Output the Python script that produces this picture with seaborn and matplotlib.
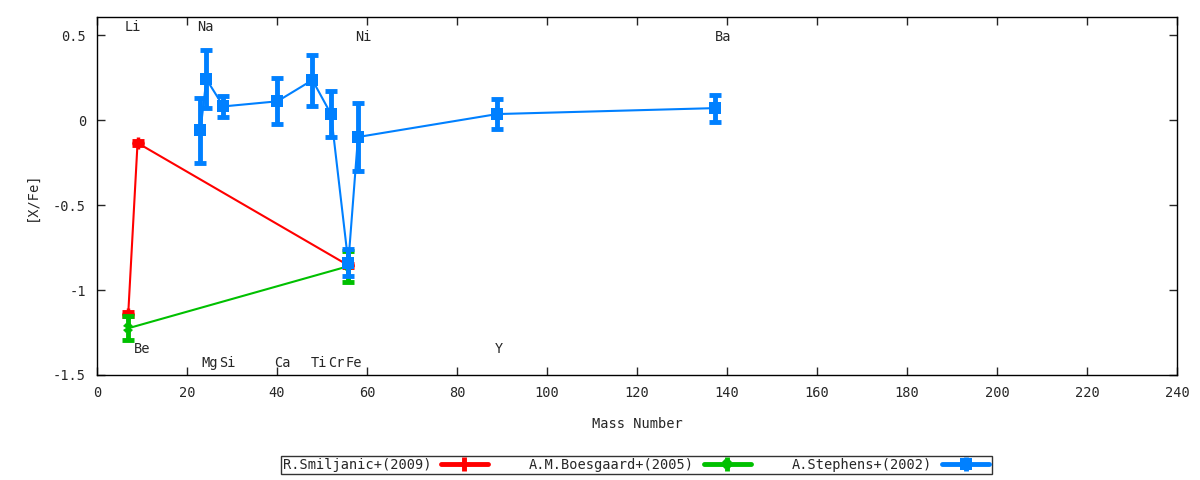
import matplotlib
matplotlib.use("Agg")
import matplotlib.pyplot as plt
import seaborn as sns
import pandas as pd

# R.Smiljanic+(2009)
smil_mass = [6.94, 9.01, 55.85]
smil_xfe = [-1.14, -0.135, -0.855]
smil_err = [0.01, 0.01, 0.01]

# A.M.Boesgaard+(2005)
boes_mass = [6.94, 55.85]
boes_xfe = [-1.225, -0.86]
boes_err = [0.07, 0.09]

# A.Stephens+(2002)
step_mass = [22.99, 24.31, 28.09, 40.08, 47.87, 52.0, 55.85, 58.0, 88.91, 137.33]
step_xfe = [-0.06, 0.24, 0.08, 0.11, 0.235, 0.035, -0.84, -0.10, 0.035, 0.07]
step_err = [0.19, 0.17, 0.06, 0.135, 0.15, 0.135, 0.08, 0.20, 0.09, 0.08]

# element labels: name, x, y
elem_names = ["Li", "Na", "Ni", "Ba", "Be", "Y", "Mg", "Si", "Ca", "Ti", "Cr", "Fe"]
elem_x = [8.0, 24.0, 59.1, 139.1, 10.0, 89.3, 25.1, 28.9, 41.1, 49.3, 53.3, 57.1]
elem_y = [0.547, 0.547, 0.488, 0.488, -1.347, -1.347, -1.43, -1.43, -1.43, -1.43, -1.43, -1.43]

sns.set_style("white")
plt.rcParams["font.family"] = ["DejaVu Sans Mono"]
FS = 9.8

fig = plt.figure(figsize=(12, 4.8), dpi=100)
ax = fig.add_axes([97 / 1200, 105 / 480, 1080 / 1200, 358 / 480])

series = [
    ("R.Smiljanic+(2009)", smil_mass, smil_xfe, smil_err, "#ff0000", "+", 8),
    ("A.M.Boesgaard+(2005)", boes_mass, boes_xfe, boes_err, "#00c000", "X", 7),
    ("A.Stephens+(2002)", step_mass, step_xfe, step_err, "#0080ff", "s", 8),
]

handles = []
labels = []
for name, xs, ys, es, col, mk, ms in series:
    df = pd.DataFrame({"mass": xs, "xfe": ys})
    mew = 2.5 if mk == "+" else 0
    sns.lineplot(data=df, x="mass", y="xfe", sort=False, color=col, lw=1.5,
                 marker=mk, markersize=ms, markeredgewidth=mew,
                 markeredgecolor=col, ax=ax)
    ax.errorbar(xs, ys, yerr=es, fmt="none", ecolor=col, elinewidth=3.5,
                capsize=4, capthick=3.5)
    proxy = ax.errorbar([], [], yerr=[], color=col, lw=3.5, marker=mk,
                        markersize=ms, markeredgewidth=mew, capsize=4, capthick=3.5)
    handles.append(proxy)
    labels.append(name)

for n, x, y in zip(elem_names, elem_x, elem_y):
    ax.text(x, y, n, ha="center", va="center", fontsize=FS)

ax.set_xlim(0, 240)
ax.set_ylim(-1.5, 0.606)
ax.set_xticks(range(0, 241, 20))
ax.set_yticks([-1.5, -1, -0.5, 0, 0.5])
ax.set_yticklabels(["-1.5", "-1", "-0.5", "0", "0.5"])
ax.tick_params(direction="in", length=6, width=1, top=True, right=True,
               bottom=True, left=True, labelsize=FS, pad=8)
for s in ax.spines.values():
    s.set_color("black")
    s.set_linewidth(1)
ax.set_xlabel("Mass Number", fontsize=FS, labelpad=12)
ax.set_ylabel("[X/Fe]", fontsize=FS, labelpad=10)

leg = fig.legend(handles, labels, loc="center", bbox_to_anchor=(636 / 1200, 15 / 480),
                 ncol=3, markerfirst=False, handlelength=3.5, columnspacing=3.0,
                 frameon=True, fancybox=False, edgecolor="black", fontsize=FS,
                 borderpad=0.15, handletextpad=0.7, borderaxespad=0)
leg.get_frame().set_linewidth(1)

fig.savefig("out.png", dpi=100)
